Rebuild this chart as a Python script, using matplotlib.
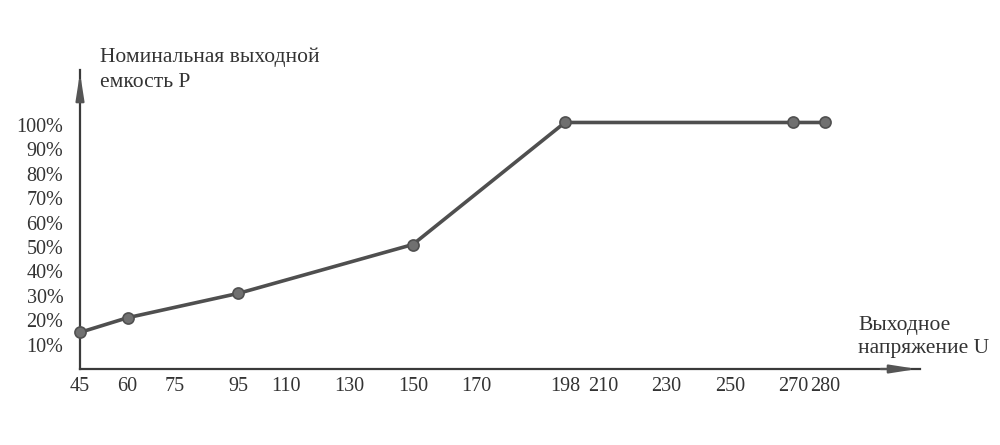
import numpy as np
import matplotlib.pyplot as plt

plt.rcParams['font.family'] = ['Liberation Serif', 'DejaVu Serif']

# -----------------------------
# Data
# -----------------------------
voltage = [45, 60, 95, 150, 198, 270, 280]
capacity = [15, 21, 31, 51, 101, 101, 101]

x_ticks = [45, 60, 75, 95, 110, 130, 150, 170, 198, 210, 230, 250, 270, 280]
y_ticks = [10, 20, 30, 40, 50, 60, 70, 80, 90, 100]
y_labels = [f"{v}%" for v in y_ticks]

# -----------------------------
# Figure
# -----------------------------
fig = plt.figure(figsize=(10, 4.45), dpi=100)
ax = fig.add_axes([0.08, 76 / 445, 0.84, 299 / 445])
ax.set_xlim(45, 310)
ax.set_ylim(0, 122.5)

for s in ['top', 'right']:
    ax.spines[s].set_visible(False)
for s in ['left', 'bottom']:
    ax.spines[s].set_color('#3a3a3a')
    ax.spines[s].set_linewidth(1.6)

# arrow heads on axes
ax.annotate('', xy=(1.0, 0), xytext=(0.95, 0), xycoords='axes fraction',
            arrowprops=dict(arrowstyle='-|>,head_length=1.6,head_width=0.25',
                            color='#555555', lw=1.6), annotation_clip=False)
ax.annotate('', xy=(0, 1.0), xytext=(0, 0.93), xycoords='axes fraction',
            arrowprops=dict(arrowstyle='-|>,head_length=1.6,head_width=0.25',
                            color='#555555', lw=1.6), annotation_clip=False)

# curve
ax.plot(voltage, capacity, color='#4f4f4f', lw=2.6, marker='o', ms=8,
        mfc='#707070', mec='#505050', mew=1.2, clip_on=False, zorder=3)

# ticks
ax.set_xticks(x_ticks)
ax.set_xticklabels([str(v) for v in x_ticks])
ax.set_yticks(y_ticks)
ax.set_yticklabels(y_labels)
ax.tick_params(axis='both', length=0, labelsize=14.5, colors='#333333')
ax.tick_params(axis='x', pad=6)
ax.tick_params(axis='y', pad=12)

# axis titles
fig.text(100 / 1000, (445 - 70) / 445, "Номинальная выходной\nемкость P",
         fontsize=15.5, color='#333333', va='center', ha='left', linespacing=1.45)
fig.text(858 / 1000, (445 - 337) / 445, "Выходное\nнапряжение U",
         fontsize=15.5, color='#333333', va='center', ha='left', linespacing=1.3)

fig.savefig('out.png', dpi=100)
